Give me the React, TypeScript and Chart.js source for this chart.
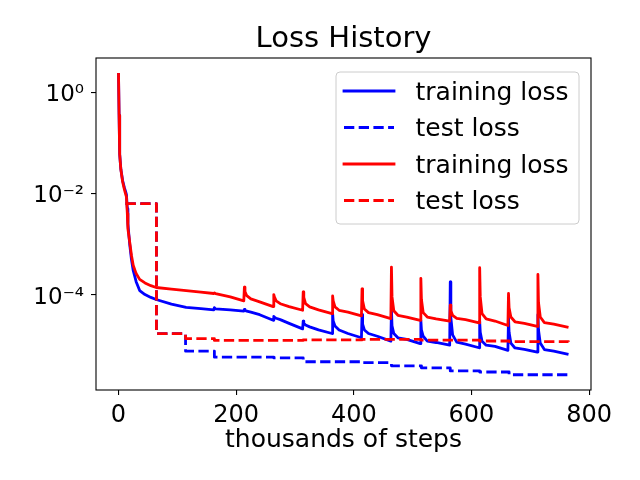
import React, { useEffect, useRef } from 'react';
import Chart from 'chart.js/auto';

// x values in thousands of steps
const trainSteps = [
  0, 1, 2, 4, 7, 10, 12, 13.5, 15, 16, 19, 22, 25, 30, 36, 45, 55, 64, 90, 115, 140,
  162, 163, 165, 190, 213, 214, 215, 218, 225, 240,
  263, 264, 265, 268, 275, 290,
  313, 314, 315, 318, 325, 340,
  363, 364, 365, 368, 375, 390,
  413, 414, 415, 418, 425, 440,
  463, 464, 465, 468, 475, 490,
  513, 514, 515, 518, 525, 540,
  563, 564, 565, 568, 575, 590,
  613, 614, 615, 618, 625, 640,
  662, 663, 664, 667, 674, 690,
  712, 713, 714, 717, 724, 740, 765,
];

const blueTrainLoss = [
  2.4, 0.35, 0.06, 0.03, 0.018, 0.013, 0.011, 0.0095, 0.005, 0.0025, 0.001, 0.0005, 0.0003, 0.00018, 0.00012, 0.0001, 8.8e-5, 8e-5, 6.5e-5, 5.6e-5, 5.3e-5,
  5e-5, 5.5e-5, 5.2e-5, 5e-5, 4.7e-5, 5.1e-5, 4.9e-5, 4.7e-5, 4.5e-5, 4e-5,
  3.1e-5, 3.7e-5, 3.6e-5, 3.4e-5, 3.2e-5, 2.7e-5,
  2.1e-5, 3e-5, 2.7e-5, 2.5e-5, 2.3e-5, 2e-5,
  1.7e-5, 4.2e-5, 3e-5, 2.4e-5, 2e-5, 1.7e-5,
  1.4e-5, 4e-5, 2.6e-5, 2e-5, 1.7e-5, 1.5e-5,
  1.2e-5, 5e-5, 2.4e-5, 1.7e-5, 1.4e-5, 1.3e-5,
  1.07e-5, 3.1e-5, 2e-5, 1.5e-5, 1.2e-5, 1.13e-5,
  1e-5, 1.78e-4, 3.5e-5, 1.6e-5, 1.15e-5, 1.05e-5,
  8.9e-6, 3e-5, 1.8e-5, 1.2e-5, 1e-5, 9.5e-6,
  7.9e-6, 3.5e-5, 1.8e-5, 1.1e-5, 8.8e-6, 8.3e-6,
  7.3e-6, 4e-5, 2e-5, 1.1e-5, 8.2e-6, 7.6e-6, 6.6e-6,
];

const redTrainLoss = [
  2.4, 0.35, 0.06, 0.03, 0.017, 0.012, 0.0098, 0.0085, 0.004, 0.002, 0.0011, 0.0006, 0.00038, 0.00026, 0.0002, 0.00017, 0.00015, 0.000138, 0.000128, 0.00012, 0.000112,
  0.000105, 0.000108, 0.000104, 9e-5, 7.5e-5, 0.00014, 0.000115, 9.5e-5, 8.2e-5, 7.2e-5,
  5.8e-5, 0.0001, 9e-5, 7.5e-5, 6.6e-5, 5.8e-5,
  4.9e-5, 0.000113, 8.8e-5, 6.6e-5, 5.7e-5, 5e-5,
  4.2e-5, 9.4e-5, 7.5e-5, 5.7e-5, 4.9e-5, 4.5e-5,
  3.8e-5, 0.00013, 7.5e-5, 5.2e-5, 4.4e-5, 4e-5,
  3.35e-5, 0.00035, 9e-5, 4.8e-5, 3.9e-5, 3.6e-5,
  3.1e-5, 0.00021, 8e-5, 4.4e-5, 3.6e-5, 3.3e-5,
  3e-5, 6.2e-5, 4.8e-5, 3.9e-5, 3.4e-5, 3.2e-5,
  2.75e-5, 0.00034, 9e-5, 4.2e-5, 3.3e-5, 3e-5,
  2.45e-5, 0.000105, 5.5e-5, 3.6e-5, 2.9e-5, 2.7e-5,
  2.35e-5, 0.00025, 7e-5, 3.6e-5, 2.8e-5, 2.6e-5, 2.25e-5,
];

// test loss is held between evaluations (stepped)
const blueTestSteps = [12, 64.5, 114, 163, 264, 314, 414, 464, 515, 564, 614, 664, 765];
const blueTestLoss = [6.3e-3, 1.69e-5, 7.6e-6, 5.8e-6, 5.6e-6, 4.7e-6, 4.5e-6, 3.9e-6, 3.55e-6, 3.1e-6, 2.95e-6, 2.6e-6, 2.6e-6];
const redTestSteps = [12, 64.5, 114, 163, 314, 414, 514, 614, 664, 765];
const redTestLoss = [6.3e-3, 1.69e-5, 1.35e-5, 1.24e-5, 1.27e-5, 1.3e-5, 1.26e-5, 1.21e-5, 1.18e-5, 1.17e-5];

const xTickValues = [0, 200, 400, 600, 800];
const yTickValues = [1e-4, 1e-2, 1];
const yTickLabels = ['10\u207B\u2074', '10\u207B\u00B2', '10\u2070'];

const legendLabels = ['training loss', 'test loss', 'training loss', 'test loss'];
const titleText = 'Loss History';
const xAxisLabel = 'thousands of steps';

const BLUE = '#0000ff';
const RED = '#ff0000';
const DASH = [10.3, 4.4];
const FONT = '"DejaVu Sans", sans-serif';

const toPoints = (xs: number[], ys: number[]) => xs.map((x, i) => ({ x, y: ys[i] }));

const overlayPlugin = {
  id: 'overlay',
  afterDraw(chart: Chart) {
    const { ctx, chartArea: a } = chart;
    ctx.save();
    // axes frame
    ctx.strokeStyle = '#000';
    ctx.lineWidth = 1.1;
    ctx.setLineDash([]);
    ctx.strokeRect(a.left, a.top, a.right - a.left, a.bottom - a.top);

    // title and x label
    ctx.fillStyle = '#000';
    ctx.textAlign = 'center';
    ctx.textBaseline = 'alphabetic';
    ctx.font = `29px ${FONT}`;
    ctx.fillText(titleText, (a.left + a.right) / 2, 47);
    ctx.font = `25px ${FONT}`;
    ctx.fillText(xAxisLabel, (a.left + a.right) / 2, 446.5);

    // legend
    const bx = 336, by = 72, bw = 243, bh = 152;
    ctx.beginPath();
    ctx.roundRect(bx, by, bw, bh, 4);
    ctx.fillStyle = 'rgba(255,255,255,0.8)';
    ctx.fill();
    ctx.strokeStyle = '#cccccc';
    ctx.lineWidth = 1;
    ctx.stroke();

    const colors = [BLUE, BLUE, RED, RED];
    const dashed = [false, true, false, true];
    legendLabels.forEach((label, i) => {
      const ry = 91 + i * 36.5;
      ctx.beginPath();
      ctx.strokeStyle = colors[i];
      ctx.lineWidth = 2.8;
      ctx.lineCap = dashed[i] ? 'butt' : 'square';
      ctx.setLineDash(dashed[i] ? DASH : []);
      ctx.moveTo(344, ry);
      ctx.lineTo(394, ry);
      ctx.stroke();
      ctx.setLineDash([]);
      ctx.fillStyle = '#000';
      ctx.textAlign = 'left';
      ctx.font = `25px ${FONT}`;
      ctx.fillText(label, 415.5, ry + 8.5);
    });
    ctx.restore();
  },
};

const App: React.FC = () => {
  const canvasRef = useRef<HTMLCanvasElement | null>(null);
  const chartRef = useRef<Chart | null>(null);

  useEffect(() => {
    document.body.style.margin = '0';
    if (!canvasRef.current) return;
    if (chartRef.current) chartRef.current.destroy();

    const lineBase = {
      borderWidth: 2.8,
      pointRadius: 0,
      tension: 0,
      borderJoinStyle: 'round' as const,
      fill: false,
    };

    chartRef.current = new Chart(canvasRef.current, {
      type: 'line',
      data: {
        datasets: [
          { ...lineBase, label: legendLabels[0], data: toPoints(trainSteps, blueTrainLoss), borderColor: BLUE, order: 4 },
          { ...lineBase, label: legendLabels[1], data: toPoints(blueTestSteps, blueTestLoss), borderColor: BLUE, borderDash: DASH, stepped: 'before', order: 3 },
          { ...lineBase, label: legendLabels[2], data: toPoints(trainSteps, redTrainLoss), borderColor: RED, order: 2 },
          { ...lineBase, label: legendLabels[3], data: toPoints(redTestSteps, redTestLoss), borderColor: RED, borderDash: DASH, stepped: 'before', order: 1 },
        ],
      },
      options: {
        animation: false,
        responsive: false,
        devicePixelRatio: 1,
        layout: { padding: { top: 58, right: 49, left: 0, bottom: 0 } },
        plugins: {
          legend: { display: false },
          title: { display: false },
          tooltip: { enabled: false },
        },
        scales: {
          x: {
            type: 'linear',
            min: -38.25,
            max: 803.25,
            afterBuildTicks: (s: any) => {
              s.ticks = xTickValues.map((v) => ({ value: v }));
            },
            afterFit: (s: any) => {
              s.height = 90;
            },
            border: { display: false },
            grid: { drawOnChartArea: false, drawTicks: true, tickLength: 5, color: '#000', lineWidth: 1.1 },
            ticks: {
              autoSkip: false,
              maxRotation: 0,
              padding: 6,
              color: '#000',
              font: { family: FONT, size: 24 },
              callback: (v: any) => String(v),
            },
          },
          y: {
            type: 'logarithmic',
            min: 1.3e-6,
            max: 4.75,
            afterBuildTicks: (s: any) => {
              s.ticks = yTickValues.map((v) => ({ value: v }));
            },
            afterFit: (s: any) => {
              s.width = 96;
            },
            border: { display: false },
            grid: { drawOnChartArea: false, drawTicks: true, tickLength: 5, color: '#000', lineWidth: 1.1 },
            ticks: {
              autoSkip: false,
              padding: 7,
              labelOffset: 3,
              color: '#000',
              font: { family: FONT, size: 23 },
              callback: (_v: any, i: number) => yTickLabels[i],
            },
          },
        },
      },
      plugins: [overlayPlugin],
    });

    return () => {
      if (chartRef.current) {
        chartRef.current.destroy();
        chartRef.current = null;
      }
    };
  }, []);

  return <canvas ref={canvasRef} width={640} height={480} style={{ display: 'block' }} />;
};

export default App;
